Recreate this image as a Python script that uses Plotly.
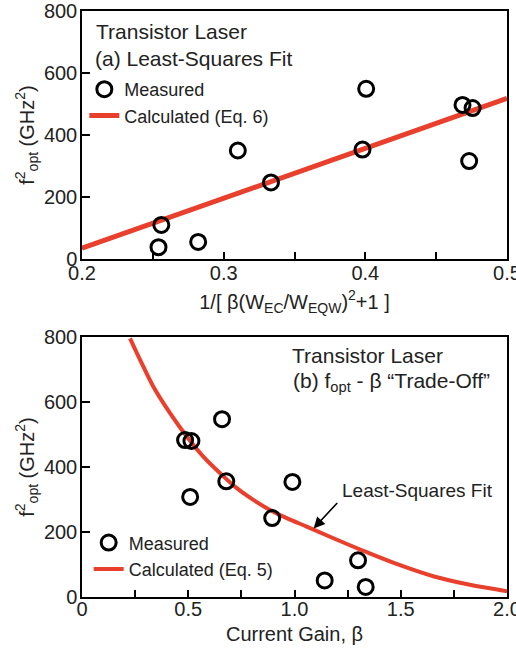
import plotly.graph_objects as go
from plotly.subplots import make_subplots

# ---- Data ----
# Panel (a): f_opt^2 vs 1/[beta (W_EC/W_EQW)^2 + 1]
a_meas_x = [0.254, 0.256, 0.282, 0.310, 0.3334, 0.398, 0.4006, 0.4686, 0.4757, 0.4733]
a_meas_y = [38, 110, 55, 350, 247, 353, 549, 497, 487, 316]
a_fit_x = [0.2, 0.5]
a_fit_y = [35, 518]

# Panel (b): f_opt^2 vs current gain beta
b_meas_x = [0.485, 0.515, 0.509, 0.659, 0.679, 0.99, 0.895, 1.299, 1.142, 1.335]
b_meas_y = [483, 480, 308, 547, 356, 354, 243, 113, 51, 31]
b_fit_x = [0.226, 0.274, 0.336, 0.415, 0.494, 0.572, 0.651, 0.730, 0.808, 0.887,
           0.966, 1.06, 1.186, 1.343, 1.5, 1.657, 1.814, 2.0]
b_fit_y = [796, 729, 647, 565, 493, 431, 380, 334, 298, 267,
           242, 216, 180, 137, 97, 63, 39, 18]

a_xticks = [0.2, 0.3, 0.4, 0.5]
a_xticktext = ["0.2", "0.3", "0.4", "0.5"]
b_xticks = [0, 0.5, 1.0, 1.5, 2.0]
b_xticktext = ["0", "0.5", "1.0", "1.5", "2.0"]
y_ticks = [0, 200, 400, 600, 800]

RED = "#e8402c"
FONT = "Liberation Sans, Arial, Helvetica, sans-serif"
TXT = "#222"

fig = make_subplots(rows=2, cols=1, vertical_spacing=0.1331)

fig.add_trace(go.Scatter(x=a_fit_x, y=a_fit_y, mode="lines",
                         line=dict(color=RED, width=5),
                         name="Calculated (Eq. 6)", legend="legend"), row=1, col=1)
fig.add_trace(go.Scatter(x=a_meas_x, y=a_meas_y, mode="markers",
                         marker=dict(symbol="circle-open", size=15, color="black",
                                     line=dict(width=3, color="black")),
                         name="Measured", legend="legend"), row=1, col=1)

fig.add_trace(go.Scatter(x=b_fit_x, y=b_fit_y, mode="lines", line_shape="spline",
                         line=dict(color=RED, width=4),
                         name="Calculated (Eq. 5)", legend="legend2"), row=2, col=1)
fig.add_trace(go.Scatter(x=b_meas_x, y=b_meas_y, mode="markers",
                         marker=dict(symbol="circle-open", size=15, color="black",
                                     line=dict(width=3, color="black")),
                         name="Measured", legend="legend2"), row=2, col=1)

fig.update_yaxes(domain=[0.5768, 1.0], row=1, col=1)
fig.update_yaxes(domain=[0.0, 0.4437], row=2, col=1)

axis_common = dict(showline=True, mirror=True, linecolor="black", linewidth=1.5,
                   ticks="inside", tickwidth=1.5, tickcolor="black",
                   showgrid=False, zeroline=False, automargin=False,
                   ticklabeloverflow="allow",
                   tickfont=dict(family=FONT, size=20, color=TXT))

fig.update_xaxes(**axis_common, range=[0.2, 0.5], tickvals=a_xticks, ticktext=a_xticktext,
                 ticklen=7, ticklabelstandoff=-5,
                 minor=dict(dtick=0.05, tick0=0.2, ticks="inside", ticklen=7, tickwidth=1.5,
                            tickcolor="black", showgrid=False),
                 title=dict(text="1/[ β(W<sub>EC</sub>/W<sub>EQW</sub>)<sup>2</sup>+1 ]",
                            font=dict(family=FONT, size=20, color=TXT), standoff=12),
                 row=1, col=1)
fig.update_xaxes(**axis_common, range=[0, 2.0], tickvals=b_xticks, ticktext=b_xticktext,
                 ticklen=7, ticklabelstandoff=-7,
                 minor=dict(dtick=0.25, tick0=0, ticks="inside", ticklen=7, tickwidth=1.5,
                            tickcolor="black", showgrid=False),
                 title=dict(text="Current Gain, β",
                            font=dict(family=FONT, size=20, color=TXT), standoff=8),
                 row=2, col=1)
for r in (1, 2):
    fig.update_yaxes(**axis_common, range=[0, 800], tickvals=y_ticks, ticklen=8,
                     ticklabelstandoff=-1,
                     title=dict(text="f<sup>2</sup><sub>opt</sub> (GHz<sup>2</sup>)",
                                font=dict(family=FONT, size=20, color=TXT), standoff=4),
                     row=r, col=1)

ann_font = dict(family=FONT, size=21, color=TXT)
annotations = [
    dict(text="Transistor Laser", xref="x domain", yref="y domain", x=0.029, y=0.919,
         xanchor="left", yanchor="middle", showarrow=False, font=ann_font),
    dict(text="(a) Least-Squares Fit", xref="x domain", yref="y domain", x=0.027, y=0.81,
         xanchor="left", yanchor="middle", showarrow=False, font=ann_font),
    dict(text="Transistor Laser", xref="x2 domain", yref="y2 domain", x=0.49, y=0.928,
         xanchor="left", yanchor="middle", showarrow=False, font=ann_font),
    dict(text="(b) f<sub>opt</sub> - β “Trade-Off”", xref="x2 domain", yref="y2 domain",
         x=0.491, y=0.828, xanchor="left", yanchor="middle", showarrow=False, font=ann_font),
    dict(text="Least-Squares Fit", xref="x2 domain", yref="y2 domain", x=0.608, y=0.408,
         xanchor="left", yanchor="middle", showarrow=False,
         font=dict(family=FONT, size=19, color=TXT)),
    dict(text="", xref="x2", yref="y2", x=1.09, y=211, ax=25, ay=-27,
         showarrow=True, arrowhead=2, arrowsize=1.4, arrowwidth=1.6, arrowcolor="black"),
]

fig.update_layout(
    width=516, height=649,
    margin=dict(l=82, r=9, t=11, b=52),
    paper_bgcolor="white", plot_bgcolor="white",
    font=dict(family=FONT, size=19, color=TXT),
    annotations=annotations,
    legend=dict(x=0.0055, y=0.8976, xanchor="left", yanchor="top",
                bgcolor="rgba(0,0,0,0)", traceorder="reversed",
                font=dict(family=FONT, size=18, color=TXT),
                tracegroupgap=0, itemsizing="trace"),
    legend2=dict(x=0.0157, y=0.124, xanchor="left", yanchor="top",
                 bgcolor="rgba(0,0,0,0)", traceorder="reversed",
                 font=dict(family=FONT, size=18, color=TXT),
                 tracegroupgap=0, itemsizing="trace"),
    showlegend=True,
)

fig.write_html("out.html", config={"displayModeBar": False},
               post_script="document.body.style.margin='0px';")
